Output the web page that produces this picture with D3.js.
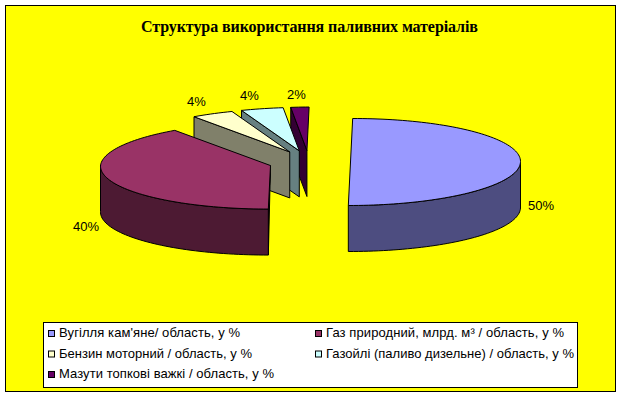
<!DOCTYPE html>
<html>
<head>
<meta charset="utf-8">
<style>
    html, body { margin: 0; padding: 0; background: #fff; }
    svg { display: block; }
    text { fill: #000; }
    .label, .legend-text { font-family: "Liberation Sans", sans-serif; font-size: 13px; }
    .title { font-family: "Liberation Serif", serif; font-size: 16px; font-weight: bold; }
    .edge { stroke: #000; stroke-width: 1; stroke-linejoin: round; }
</style>
</head>
<body>
<svg id="chart" width="621" height="396"></svg>
<script src="https://d3js.org/d3.v7.min.js"></script>
<script>
    const chartTitle = "Структура використання паливних матеріалів"
    const categories = [
        "Вугілля кам'яне/ область, у %",
        "Газ природний, млрд. м³ / область, у %",
        "Бензин моторний / область, у %",
        "Газойлі (паливо дизельне) / область, у %",
        "Мазути топкові важкі / область, у %"
    ]
    const shares = [50, 40, 4, 4, 2]
    const topColors = ["#9999ff", "#993366", "#ffffcc", "#ccffff", "#660066"]
    const wallColors = ["#4d4d80", "#4d1a33", "#80806a", "#668080", "#330033"]
    // label anchor points, same order as shares
    const labelSpots = [[528, 210], [73, 231], [187, 106], [240, 100], [287, 99]]
    // legend text widths
    const legendWidths = [181, 238, 193, 248, 215]

    const svg = d3.select("#chart")

    svg.append("rect")
        .attr("x", 5.5).attr("y", 5.5)
        .attr("width", 610).attr("height", 386)
        .attr("fill", "#ffff00").attr("stroke", "#000")

    svg.append("text")
        .attr("class", "title")
        .attr("x", 141).attr("y", 32)
        .attr("textLength", 337)
        .text(chartTitle)

    // pie geometry: flattened ellipse, each slice pulled out along its bisector
    const centerX = 309.5, centerY = 162
    const radiusX = 170, radiusY = 43.5
    const explodeX = 41, explodeY = 11.5
    const depth = 46
    const skew = 0.05
    const backLeftShift = 3 // the far left quarter leans a little further right

    const xScale = d3.scaleLinear().domain([-1, 1]).range([-radiusX, radiusX])
    const yScale = d3.scaleLinear().domain([-1, 1]).range([-radiusY, radiusY])

    const slices = d3.pie().sort(null).value(d => d)(shares)

    slices.forEach(s => {
        let mid = (s.startAngle + s.endAngle) / 2
        s.cx = centerX + explodeX * Math.sin(mid)
        s.cy = centerY - explodeY * Math.cos(mid)
    })

    // point on the rim of a slice at a clockwise angle from the top
    function rim(s, a) {
        let sin = Math.sin(a), cos = Math.cos(a)
        let x = xScale(sin)
        let y = yScale(-cos)
        let lean = (sin < 0 && cos > 0) ? backLeftShift * cos * Math.min(1, -sin / 0.1) : 0
        return [s.cx + x - skew * y + lean, s.cy + y]
    }

    function arcPoints(s, a0, a1) {
        let steps = Math.max(2, Math.ceil((a1 - a0) / 0.03))
        return d3.range(steps + 1).map(i => rim(s, a0 + (a1 - a0) * i / steps))
    }

    const outline = d3.line()
    const dropped = pts => pts.map(p => [p[0], p[1] + depth])

    const pie = svg.append("g")

    // back slices first so the front ones cover them
    d3.range(slices.length).reverse().forEach(i => {
        let s = slices[i]
        let g = pie.append("g")

        // cut face along the start edge
        if (s.startAngle >= Math.PI - 0.001) {
            let face = [[s.cx, s.cy], rim(s, s.startAngle)]
            // edge pointing straight at the viewer: only a sliver shows
            let lower = Math.abs(Math.sin(s.startAngle)) < 0.01 ? dropped(face.slice(1)) : dropped(face).reverse()
            g.append("path")
                .attr("class", "edge")
                .attr("fill", wallColors[i])
                .attr("d", outline(face.concat(lower)) + "Z")
        }

        // outer wall, only the part of the rim facing the viewer
        let a0 = Math.max(s.startAngle, Math.PI / 2)
        let a1 = Math.min(s.endAngle, Math.PI * 1.5)
        if (a1 > a0) {
            let curve = arcPoints(s, a0, a1)
            g.append("path")
                .attr("class", "edge")
                .attr("fill", wallColors[i])
                .attr("d", outline(curve.concat(dropped(curve).reverse())) + "Z")
        }

        // top face
        g.append("path")
            .attr("class", "edge")
            .attr("fill", topColors[i])
            .attr("d", outline([[s.cx, s.cy]].concat(arcPoints(s, s.startAngle, s.endAngle))) + "Z")
    })

    const total = d3.sum(shares)
    svg.append("g").selectAll("text")
        .data(shares)
        .join("text")
        .attr("class", "label")
        .attr("x", (d, i) => labelSpots[i][0])
        .attr("y", (d, i) => labelSpots[i][1])
        .text(d => d3.format(".0%")(d / total))

    // legend box
    const legend = svg.append("g").attr("transform", "translate(43,322)")
    legend.append("rect")
        .attr("x", 0.5).attr("y", 0.5)
        .attr("width", 534).attr("height", 65)
        .attr("fill", "#fff").attr("stroke", "#000")

    const colX = d3.scaleOrdinal().domain([0, 1]).range([5.5, 272.5])
    const rowY = d3.scaleLinear().domain([0, 2]).range([8.5, 49.5])

    const items = legend.selectAll("g.item")
        .data(categories)
        .join("g")
        .attr("class", "item")
        .attr("transform", (d, i) => `translate(${colX(i % 2)},${rowY(Math.floor(i / 2))})`)

    items.append("rect")
        .attr("width", 6).attr("height", 6)
        .attr("fill", (d, i) => topColors[i])
        .attr("stroke", "#000")

    items.append("text")
        .attr("class", "legend-text")
        .attr("x", 10.5)
        .attr("y", 6.5)
        .attr("textLength", (d, i) => legendWidths[i])
        .text(d => d)
</script>
</body>
</html>
